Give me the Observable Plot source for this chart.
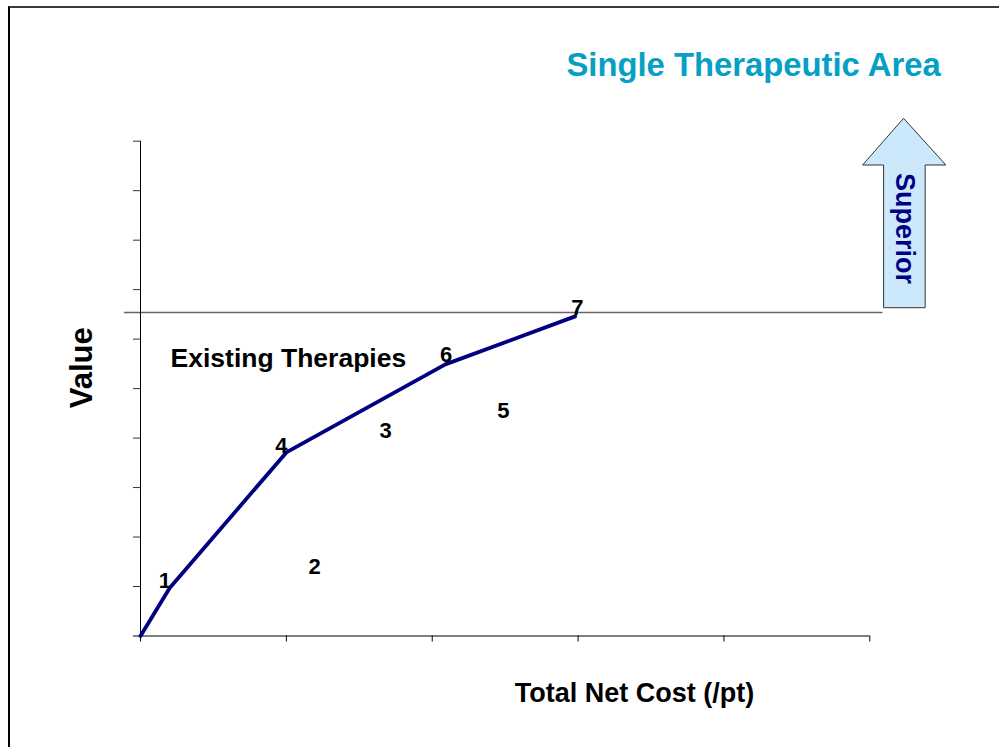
<!DOCTYPE html>
<html><head><meta charset="utf-8">
<script src="https://cdn.jsdelivr.net/npm/d3@7"></script>
<script src="https://cdn.jsdelivr.net/npm/@observablehq/plot@0.6"></script>
<style>
html,body{margin:0;padding:0;background:#fff;}
#wrap{position:relative;width:999px;height:747px;overflow:hidden;background:#fff;}
#frame{position:absolute;left:8px;top:6px;width:1200px;height:1000px;border-top:2px solid #3a3a3a;border-left:2px solid #000;pointer-events:none;}
</style></head><body>
<div id="wrap"><div id="chart"></div><div id="frame"></div></div>
<script>
// ---- data ----
const xTicks = [0, 1, 2, 3, 4, 5];
const yTicks = [0, 1, 2, 3, 4, 5, 6, 7, 8, 9, 10];

// efficiency frontier (value vs total net cost)
const frontierX = [0, 0.20, 1.00, 2.09, 2.98];
const frontierY = [0, 0.97, 3.71, 5.49, 6.46];

// therapy labels
const therapyIds = ["1", "2", "3", "4", "5", "6", "7"];
const therapyX = [0.167, 1.193, 1.68, 0.965, 2.487, 2.096, 2.996];
const therapyY = [1.12, 1.39, 4.14, 3.85, 4.54, 5.67, 6.62];

// threshold (current value level)
const thresholdY = 6.54;
const thresholdX1 = -0.11;
const thresholdX2 = 5.09;

// "Superior" arrow outline
const arrowY  = [6.633, 9.509, 9.509, 10.453];
const arrowX1 = [5.098, 5.098, 4.954, 5.235];
const arrowX2 = [5.383, 5.383, 5.525, 5.235];

// annotation texts
const titleText = ["Single Therapeutic Area"];
const titleX = [2.92], titleY = [11.54];
const regionText = ["Existing Therapies"];
const regionX = [0.206], regionY = [5.61];
const arrowText = ["Superior"];
const arrowTextX = [5.238], arrowTextY = [8.236];
const yLabel = ["Value"];
const yLabelX = [-0.40], yLabelY = [5.42];
const xLabel = ["Total Net Cost (/pt)"];
const xLabelX = [3.387], xLabelY = [-1.16];

const font = "'Liberation Sans', Arial, sans-serif";
const idx = a => a.map((_, i) => i);

const chart = Plot.plot({
  width: 999,
  height: 747,
  marginLeft: 140,
  marginRight: 129.7,
  marginTop: 140.7,
  marginBottom: 111.5,
  axis: null,
  x: {domain: [0, 5], label: null},
  y: {domain: [0, 10], label: null},
  style: {fontFamily: font, background: "transparent", overflow: "visible"},
  marks: [
    Plot.ruleY([thresholdY], {x1: thresholdX1, x2: thresholdX2, stroke: "#666", strokeWidth: 1.5}),
    Plot.axisY({ticks: yTicks, tickSize: 7, tickFormat: () => "", label: null, stroke: "#333"}),
    Plot.ruleX([0], {y1: 0, y2: 10, stroke: "#000", strokeWidth: 1}),
    Plot.ruleY([0], {x1: -0.048, x2: 5, stroke: "#808080", strokeWidth: 2}),
    Plot.axisX({ticks: xTicks, tickSize: 6, tickFormat: () => "", label: null, stroke: "#000"}),
    Plot.line(idx(frontierX), {x: i => frontierX[i], y: i => frontierY[i], stroke: "#000080", strokeWidth: 3.8}),
    Plot.text(idx(therapyIds), {x: i => therapyX[i], y: i => therapyY[i], text: i => therapyIds[i],
      fontSize: 22, fontWeight: "bold", fill: "#000"}),
    Plot.areaX(idx(arrowY), {y: i => arrowY[i], x1: i => arrowX1[i], x2: i => arrowX2[i],
      fill: "#cce9fb", stroke: "#333", strokeWidth: 1, curve: "linear"}),
    Plot.text(idx(arrowText), {x: i => arrowTextX[i], y: i => arrowTextY[i], text: i => arrowText[i],
      rotate: 90, fontSize: 27, fontWeight: "bold", fill: "#000080"}),
    Plot.text(idx(titleText), {x: i => titleX[i], y: i => titleY[i], text: i => titleText[i],
      textAnchor: "start", fontSize: 32.8, fontWeight: "bold", fill: "#05a0c4"}),
    Plot.text(idx(regionText), {x: i => regionX[i], y: i => regionY[i], text: i => regionText[i],
      textAnchor: "start", fontSize: 26.5, fontWeight: "bold", fill: "#000"}),
    Plot.text(idx(yLabel), {x: i => yLabelX[i], y: i => yLabelY[i], text: i => yLabel[i],
      rotate: -90, fontSize: 31, fontWeight: "bold", fill: "#000"}),
    Plot.text(idx(xLabel), {x: i => xLabelX[i], y: i => xLabelY[i], text: i => xLabel[i],
      fontSize: 27, fontWeight: "bold", fill: "#000"})
  ]
});
document.getElementById("chart").appendChild(chart);
</script>
</body></html>
